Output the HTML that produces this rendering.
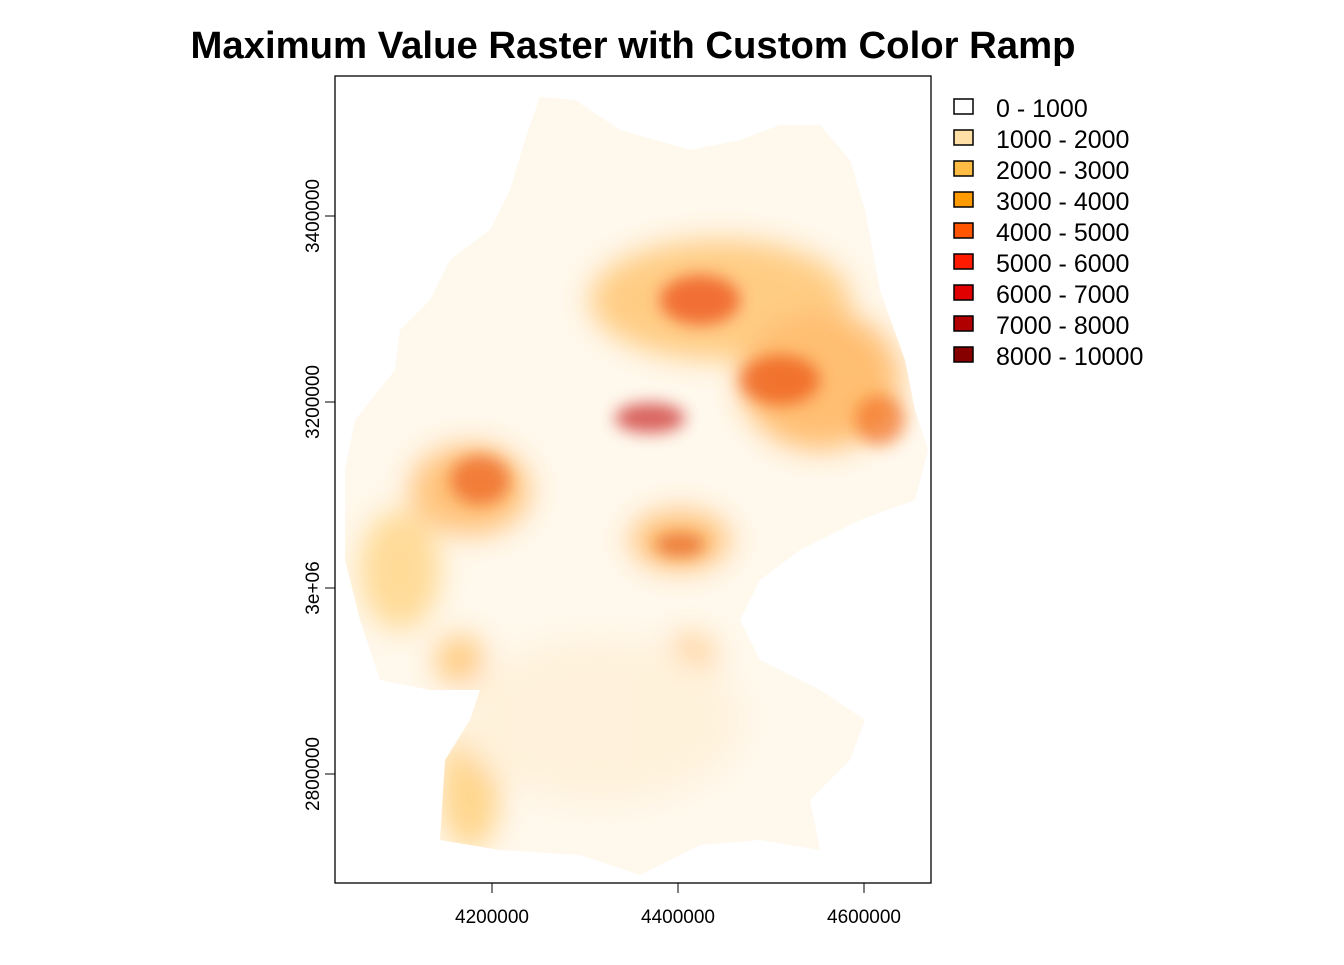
<!DOCTYPE html>
<html><head><meta charset="utf-8"><style>
body{margin:0;background:#fff;font-family:"Liberation Sans",Arial,sans-serif}
svg text{font-family:"Liberation Sans",Arial,sans-serif}
</style></head><body>
<svg width="1344" height="960" viewBox="0 0 1344 960">
<defs>
<filter id="b1" x="-50%" y="-50%" width="200%" height="200%"><feGaussianBlur stdDeviation="14"/></filter>
<filter id="b2" x="-50%" y="-50%" width="200%" height="200%"><feGaussianBlur stdDeviation="8"/></filter>
<clipPath id="landclip"><polygon points="540,97 575,100 620,130 690,150 740,140 780,125 820,125 850,160 865,210 880,290 905,360 915,410 928,450 915,500 860,520 800,550 760,580 740,620 760,660 820,690 865,720 850,760 810,800 820,850 760,840 700,845 640,875 580,855 500,850 440,840 445,760 470,720 480,690 430,690 380,680 360,620 345,560 345,470 355,420 395,370 400,330 430,300 450,260 490,230 510,190 525,140"/></clipPath>
</defs>
<text x="633" y="58" text-anchor="middle" font-size="38" font-weight="bold" textLength="885" lengthAdjust="spacingAndGlyphs">Maximum Value Raster with Custom Color Ramp</text>
<g clip-path="url(#landclip)">
<rect x="335" y="76" width="596" height="807" fill="#FFF8EC"/>
<g filter="url(#b1)" opacity="0.6">
<ellipse cx="720" cy="300" rx="130" ry="60" fill="#FFB040"/>
<ellipse cx="820" cy="380" rx="80" ry="70" fill="#FF9920"/>
<ellipse cx="470" cy="490" rx="60" ry="45" fill="#FFA030"/>
<ellipse cx="470" cy="790" rx="30" ry="60" fill="#FFC050"/>
<ellipse cx="400" cy="570" rx="40" ry="60" fill="#FFC860"/>
<ellipse cx="680" cy="540" rx="50" ry="30" fill="#FFA030"/>
<ellipse cx="460" cy="660" rx="25" ry="25" fill="#FFB040"/>
<ellipse cx="690" cy="660" rx="25" ry="25" fill="#FFB040"/>
<ellipse cx="600" cy="720" rx="140" ry="80" fill="#FFEED0"/>
</g>
<g filter="url(#b2)" opacity="0.6">
<ellipse cx="650" cy="418" rx="35" ry="15" fill="#C00000"/>
<ellipse cx="700" cy="300" rx="40" ry="25" fill="#E83000"/>
<ellipse cx="780" cy="380" rx="40" ry="25" fill="#E84000"/>
<ellipse cx="480" cy="480" rx="30" ry="25" fill="#E85010"/>
<ellipse cx="680" cy="545" rx="25" ry="12" fill="#E05010"/>
<ellipse cx="880" cy="420" rx="25" ry="25" fill="#F06010"/>
</g>
</g>
<rect x="335" y="76" width="596" height="807" fill="none" stroke="#000" stroke-width="1.3"/>
<g font-size="19" text-anchor="middle">
<line x1="492" y1="883" x2="492" y2="893" stroke="#000"/><text x="492" y="923">4200000</text>
<line x1="678" y1="883" x2="678" y2="893" stroke="#000"/><text x="678" y="923">4400000</text>
<line x1="864" y1="883" x2="864" y2="893" stroke="#000"/><text x="864" y="923">4600000</text>
</g>
<g font-size="19" text-anchor="middle">
<line x1="325" y1="216" x2="335" y2="216" stroke="#000"/><text transform="translate(319,216) rotate(-90)">3400000</text>
<line x1="325" y1="402" x2="335" y2="402" stroke="#000"/><text transform="translate(319,402) rotate(-90)">3200000</text>
<line x1="325" y1="588" x2="335" y2="588" stroke="#000"/><text transform="translate(319,588) rotate(-90)">3e+06</text>
<line x1="325" y1="774" x2="335" y2="774" stroke="#000"/><text transform="translate(319,774) rotate(-90)">2800000</text>
</g>
<g font-size="25">
<g><rect x="954" y="99" width="19" height="15" fill="#FFFFFF" stroke="#000" stroke-width="1.5"/><text x="996" y="117">0 - 1000</text></g>
<g><rect x="954" y="130" width="19" height="15" fill="#FFDFA5" stroke="#000" stroke-width="1.5"/><text x="996" y="148">1000 - 2000</text></g>
<g><rect x="954" y="161" width="19" height="15" fill="#FFBC45" stroke="#000" stroke-width="1.5"/><text x="996" y="179">2000 - 3000</text></g>
<g><rect x="954" y="192" width="19" height="15" fill="#FF9A00" stroke="#000" stroke-width="1.5"/><text x="996" y="210">3000 - 4000</text></g>
<g><rect x="954" y="223" width="19" height="15" fill="#FF5500" stroke="#000" stroke-width="1.5"/><text x="996" y="241">4000 - 5000</text></g>
<g><rect x="954" y="254" width="19" height="15" fill="#FF1A00" stroke="#000" stroke-width="1.5"/><text x="996" y="272">5000 - 6000</text></g>
<g><rect x="954" y="285" width="19" height="15" fill="#E00000" stroke="#000" stroke-width="1.5"/><text x="996" y="303">6000 - 7000</text></g>
<g><rect x="954" y="316" width="19" height="15" fill="#B00000" stroke="#000" stroke-width="1.5"/><text x="996" y="334">7000 - 8000</text></g>
<g><rect x="954" y="347" width="19" height="15" fill="#870000" stroke="#000" stroke-width="1.5"/><text x="996" y="365">8000 - 10000</text></g>
</g>
</svg>
</body></html>
